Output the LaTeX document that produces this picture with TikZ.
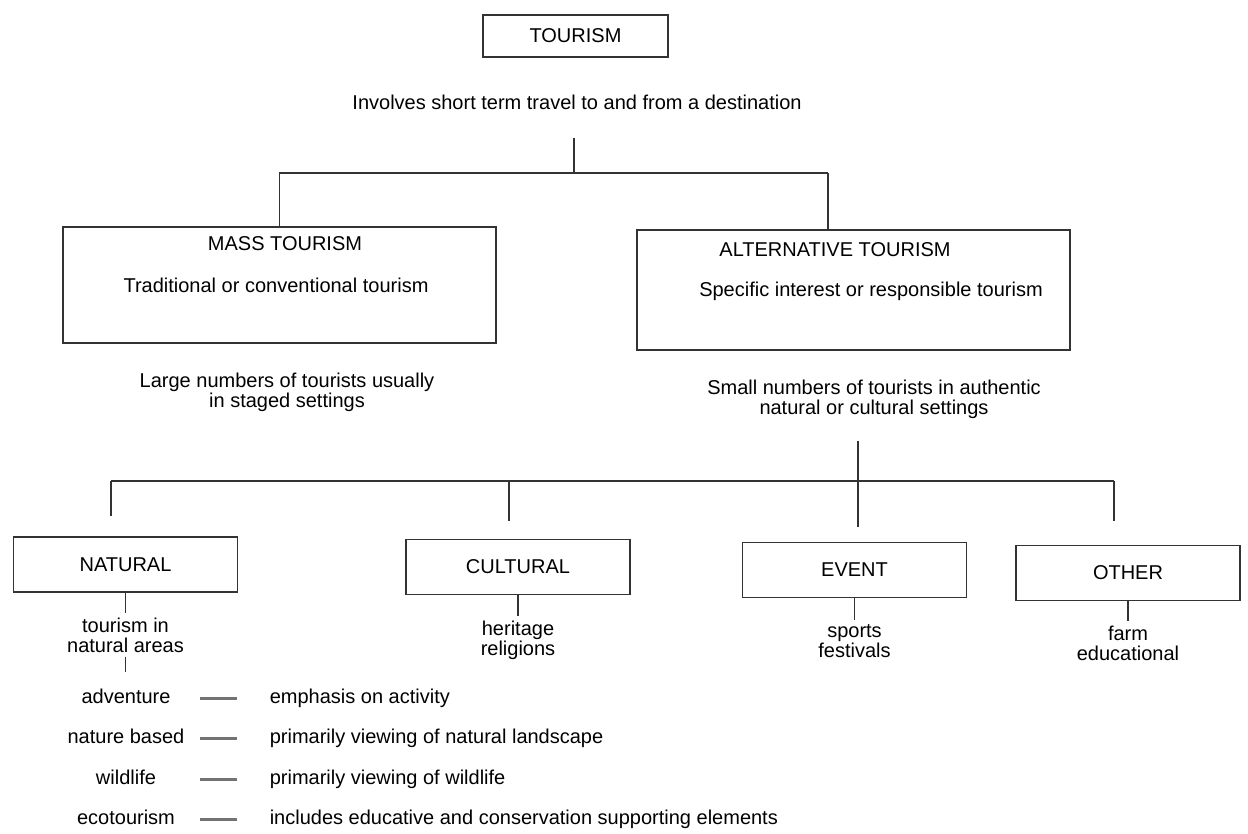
\documentclass[tikz,border=0pt]{standalone}
\usepackage{fontspec}
\setmainfont{Liberation Sans}
\usetikzlibrary{positioning}
\begin{document}
\begin{tikzpicture}[x=0.5pt, y=-0.5pt, color=black!80, line width=0.9pt,
	font=\fontsize{10}{10}\selectfont,
	box/.style = {draw, line width=0.7pt, minimum width=112pt, minimum height=27.5pt},
	big/.style = {draw, line width=0.7pt, minimum width=216.5pt},
	txt/.style = {align=center, inner sep=0pt, text=black},
	kind/.style = {inner sep=0pt, minimum width=73pt, text height=7pt, text depth=2pt, text=black},
	info/.style = {inner sep=0pt, text height=7pt, text depth=2pt, text=black},
	tie/.style = {line width=1.5pt, black!55, shorten >=16pt}]
		\useasboundingbox (0,0) rectangle (1248,834);
		%Top of the tree
		\node[box, minimum width=92.5pt, minimum height=21pt, text=black] (1) at (575.5,36) {TOURISM};
		\node[txt] (2) at (577,102) {Involves short term travel to and from a destination};
		\coordinate (a) at (574,138);
		\coordinate (b) at (574,173);
		\coordinate (c) at (828,173);
		%Mass tourism part
		\node[big, minimum height=58pt] (3) at (279.5,285) {};
		\node[txt] (4) at (285,244) {MASS TOURISM};
		\node[txt] (5) at (276,285) {Traditional or conventional tourism};
		\node[txt] (6) at (287,392) {Large numbers of tourists usually\\in staged settings};
		%Alternative tourism part
		\node[big, minimum height=60pt] (7) at (853.5,290) {};
		\node[txt] (8) at (835,250) {ALTERNATIVE TOURISM};
		\node[txt] (9) at (871,291) {Specific interest or responsible tourism};
		\node[txt] (10) at (874,399) {Small numbers of tourists in authentic\\natural or cultural settings};
		%Four kinds in bottom part
		\node[box, text=black] (11) at (125.5,564.5) {NATURAL};
		\node[box, text=black] (12) at (518,567) {CULTURAL};
		\node[box, text=black] (13) at (854.5,570) {EVENT};
		\node[box, text=black] (14) at (1128,573) {OTHER};
		\node[txt] (15) [node distance={35.5pt},below of=11] {tourism in\\natural areas};
		\node[txt] (16) [node distance={36.5pt},below of=12] {heritage\\religions};
		\node[txt] (17) [node distance={35.5pt},below of=13] {sports\\festivals};
		\node[txt] (18) [node distance={35pt},below of=14] {farm\\educational};
		\coordinate (d) at (858,441);
		\coordinate (e) at (111,481);
		\coordinate (f) at (509,481);
		\coordinate (g) at (858,481);
		\coordinate (h) at (1114,481);
		%Natural areas list
		\node[kind] (19) at (126,698) {adventure};
		\node[kind] (20) [node distance={20.3pt},below of=19] {nature based};
		\node[kind] (21) [node distance={20.3pt},below of=20] {wildlife};
		\node[kind] (22) [node distance={20.3pt},below of=21] {ecotourism};
		\node[info, right=34.5pt of 19] (23) {emphasis on activity};
		\node[info, right=34.5pt of 20] (24) {primarily viewing of natural landscape};
		\node[info, right=34.5pt of 21] (25) {primarily viewing of wildlife};
		\node[info, right=34.5pt of 22] (26) {includes educative and conservation supporting elements};
		
		%Tree lines
		\draw (a) -- (b); %Line travel -> fork
		\draw (3.north) |- (c); %Line fork -> mass tourism
		\draw (c) -- (c |- 7.north); %Line fork -> alternative tourism
		\draw (d) -- ([yshift=7.5pt]g |- 13.north); %Line alternative -> event
		\draw (e) -- (h); %Line across the four kinds
		\draw (e) -- ([yshift=10pt]e |- 11.north); %Line fork -> natural
		\draw (f) -- ([yshift=9pt]f |- 12.north); %Line fork -> cultural
		\draw (h) -- ([yshift=12pt]h |- 14.north); %Line fork -> other
		
		\draw (11.south) -- ([yshift=2pt]11.south |- 15.north); %Line natural -> areas
		\draw (12.south) -- ([yshift=2pt]12.south |- 16.north); %Line cultural -> heritage
		\draw (13.south) -- ([yshift=2pt]13.south |- 17.north); %Line event -> sports
		\draw (14.south) -- ([yshift=2pt]14.south |- 18.north); %Line other -> farm
		\draw ([yshift=-1.5pt]15.south) -- ([yshift=8pt]15.south |- 19.north); %Line areas -> adventure
		
		%Short ties in the list
		\draw[tie] (19) -- (23);
		\draw[tie] (20) -- (24);
		\draw[tie] (21) -- (25);
		\draw[tie] (22) -- (26);
	\end{tikzpicture}
\end{document}
